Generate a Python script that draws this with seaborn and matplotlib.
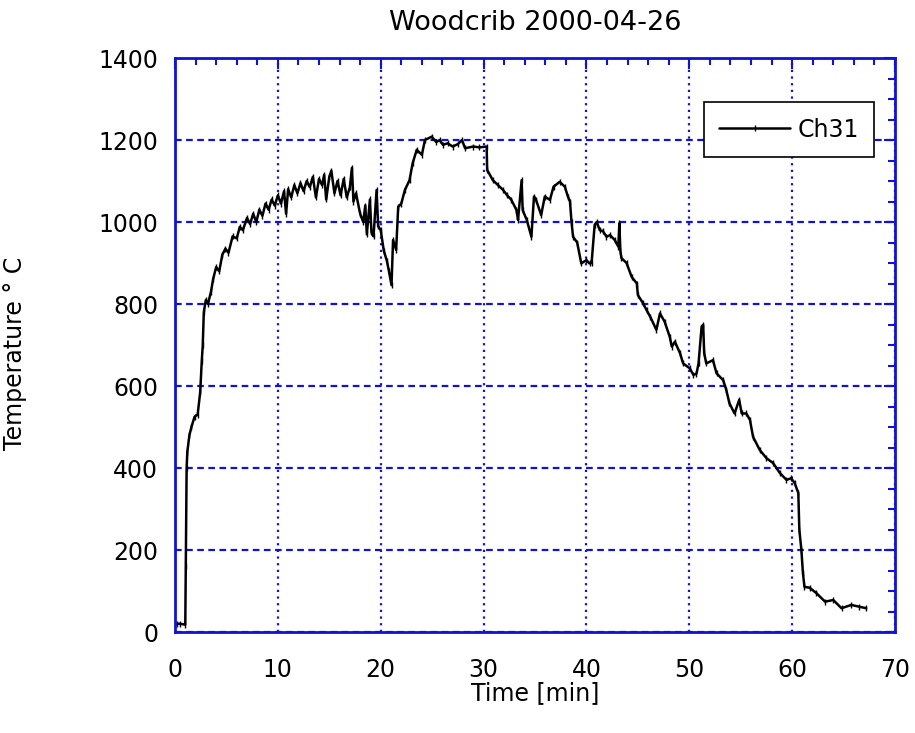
import matplotlib
matplotlib.use("Agg")
import matplotlib.pyplot as plt
from matplotlib.ticker import MultipleLocator
import seaborn as sns
import pandas as pd

# ---- data ----
time_min = [0.15, 0.5, 1.0, 1.05, 1.13, 1.2, 1.4, 1.6, 1.9, 2.2, 2.45, 2.6, 2.7, 2.8,
            3.0, 3.2, 3.5, 3.7, 4.0, 4.3, 4.6, 4.9, 5.2, 5.6, 6.0, 6.3, 6.6, 7.0,
            7.3, 7.6, 7.9, 8.2, 8.5, 8.8, 9.1, 9.4, 9.7, 10.0, 10.3, 10.6, 10.8,
            11.0, 11.3, 11.6, 11.9, 12.2, 12.5, 12.8, 13.1, 13.4, 13.7, 14.0, 14.3,
            14.5, 14.7, 15.0, 15.2, 15.5, 15.8, 16.1, 16.4, 16.7, 17.0, 17.2, 17.35,
            17.6, 18.0, 18.3, 18.5, 18.65, 18.95, 19.1, 19.3, 19.6, 19.75, 20.0,
            20.3, 20.6, 20.8, 21.05, 21.2, 21.5, 21.7, 22.0, 22.35, 22.8, 23.1,
            23.5, 24.0, 24.3, 24.95, 25.4, 25.75, 26.05, 26.5, 27.0, 27.5, 27.9,
            28.2, 29.0, 29.6, 30.3, 30.35, 30.9, 31.4, 31.9, 32.3, 32.7, 33.2,
            33.35, 33.7, 33.8, 34.2, 34.65, 34.9, 35.1, 35.6, 35.95, 36.45, 36.8,
            37.4, 37.9, 38.2, 38.4, 38.55, 38.7, 39.1, 39.5, 40.0, 40.3, 40.5,
            40.8, 41.0, 41.3, 41.6, 41.95, 42.3, 42.75, 43.1, 43.2, 43.3, 43.4,
            43.9, 44.4, 44.9, 45.0, 45.5, 45.85, 46.2, 46.8, 47.15, 47.6, 48.1,
            48.3, 48.6, 49.1, 49.4, 50.05, 50.4, 50.7, 50.9, 51.2, 51.35, 51.45,
            51.65, 52.3, 52.65, 53.3, 53.6, 53.9, 54.4, 54.85, 55.1, 55.55, 55.9,
            56.2, 56.85, 57.5, 58.15, 58.8, 59.45, 59.9, 60.25, 60.6, 60.7, 60.9,
            61.05, 61.2, 61.7, 62.35, 63.2, 64.0, 64.8, 65.75, 66.5, 67.2]
temp_c = [20, 20, 18, 160, 400, 440, 480, 500, 525, 530, 585, 660, 700, 780,
          810, 800, 830, 860, 890, 880, 920, 935, 925, 965, 960, 988, 980, 1010,
          995, 1020, 1000, 1030, 1015, 1045, 1030, 1055, 1040, 1065, 1045, 1075, 1020,
          1080, 1060, 1090, 1070, 1095, 1075, 1100, 1085, 1110, 1060, 1105, 1090,
          1115, 1055, 1110, 1125, 1070, 1100, 1065, 1105, 1060, 1085, 1132, 1050,
          1070, 1020, 1000, 1040, 970, 1055, 975, 965, 1078, 990, 980,
          930, 905, 880, 846, 956, 932, 1037, 1045, 1078, 1102, 1143,
          1176, 1164, 1200, 1208, 1195, 1200, 1188, 1192, 1184, 1190, 1200,
          1180, 1184, 1182, 1184, 1127, 1102, 1090, 1078, 1065, 1054, 1029,
          1005, 1102, 1029, 1005, 964, 1062, 1054, 1017, 1062, 1054, 1086,
          1098, 1086, 1062, 1050, 1000, 964, 950, 899, 907, 899, 900,
          993, 1000, 980, 978, 964, 968, 956, 940, 997, 930, 912,
          900, 866, 850, 822, 802, 785, 769, 737, 777, 757, 720,
          696, 708, 680, 655, 643, 627, 630, 655, 745, 749, 680,
          655, 663, 631, 614, 590, 558, 533, 566, 533, 533, 517,
          476, 444, 424, 412, 388, 371, 375, 363, 339, 249, 200,
          143, 110, 108, 95, 74, 78, 58, 66, 62, 58]
series_name = "Ch31"
x_ticks = [0, 10, 20, 30, 40, 50, 60, 70]
y_ticks = [0, 200, 400, 600, 800, 1000, 1200, 1400]

df = pd.DataFrame({"Time [min]": time_min, "Temperature": temp_c,
                   "series": [series_name] * len(time_min)})

sns.set_style("white")
plt.rcParams["font.family"] = ["DejaVu Sans"]
plt.rcParams["text.color"] = "black"
plt.rcParams["axes.labelcolor"] = "black"
BLUE = "#1212d2"

fig = plt.figure(figsize=(9.15, 7.33), dpi=100)
ax = fig.add_axes([175 / 915, 1 - 632 / 733, 720 / 915, 574 / 733])

sns.lineplot(data=df, x="Time [min]", y="Temperature", hue="series",
             palette=["black"], estimator=None, sort=False, ax=ax,
             linewidth=1.8, marker="|", markersize=4, markeredgewidth=1.0,
             markeredgecolor="black")

ax.set_xlim(0, 70)
ax.set_ylim(0, 1400)
ax.set_xticks(x_ticks)
ax.set_yticks(y_ticks)
ax.xaxis.set_minor_locator(MultipleLocator(2))
ax.yaxis.set_minor_locator(MultipleLocator(50))

for s in ax.spines.values():
    s.set_color(BLUE)
    s.set_linewidth(2)
    s.set_visible(True)

ax.tick_params(which="both", direction="in", top=True, right=True,
               color=BLUE, labelcolor="black", labelsize=17)
ax.tick_params(which="major", length=8, width=1.5)
ax.tick_params(which="minor", length=5, width=1.5)
ax.tick_params(axis="x", which="major", pad=19)
ax.tick_params(axis="y", which="major", pad=12)

ax.xaxis.grid(True, which="major", color=BLUE, linestyle=(0, (1, 2)), linewidth=1.6)
ax.yaxis.grid(True, which="major", color=BLUE, linestyle=(0, (3, 2)), linewidth=1.6)
ax.set_axisbelow(True)

ax.set_title("Woodcrib 2000-04-26", fontsize=19.5, pad=20, color="black")
ax.set_xlabel("Time [min]", fontsize=17, color="black")
ax.set_ylabel("Temperature ° C", fontsize=17, color="black")
ax.xaxis.set_label_coords(0.5, -0.085)
ax.yaxis.set_label_coords(-0.205, 0.486)

handles, labels = ax.get_legend_handles_labels()
leg = ax.legend(handles, labels, loc="upper right", bbox_to_anchor=(0.971, 0.923),
                borderaxespad=0, fontsize=17, frameon=True, fancybox=False,
                handlelength=3.0, handletextpad=0.3, borderpad=0.65,
                edgecolor="black", framealpha=1)
leg.get_frame().set_linewidth(1.2)
for t in leg.get_texts():
    t.set_color("black")

fig.savefig("out.png", dpi=100, facecolor="white")
